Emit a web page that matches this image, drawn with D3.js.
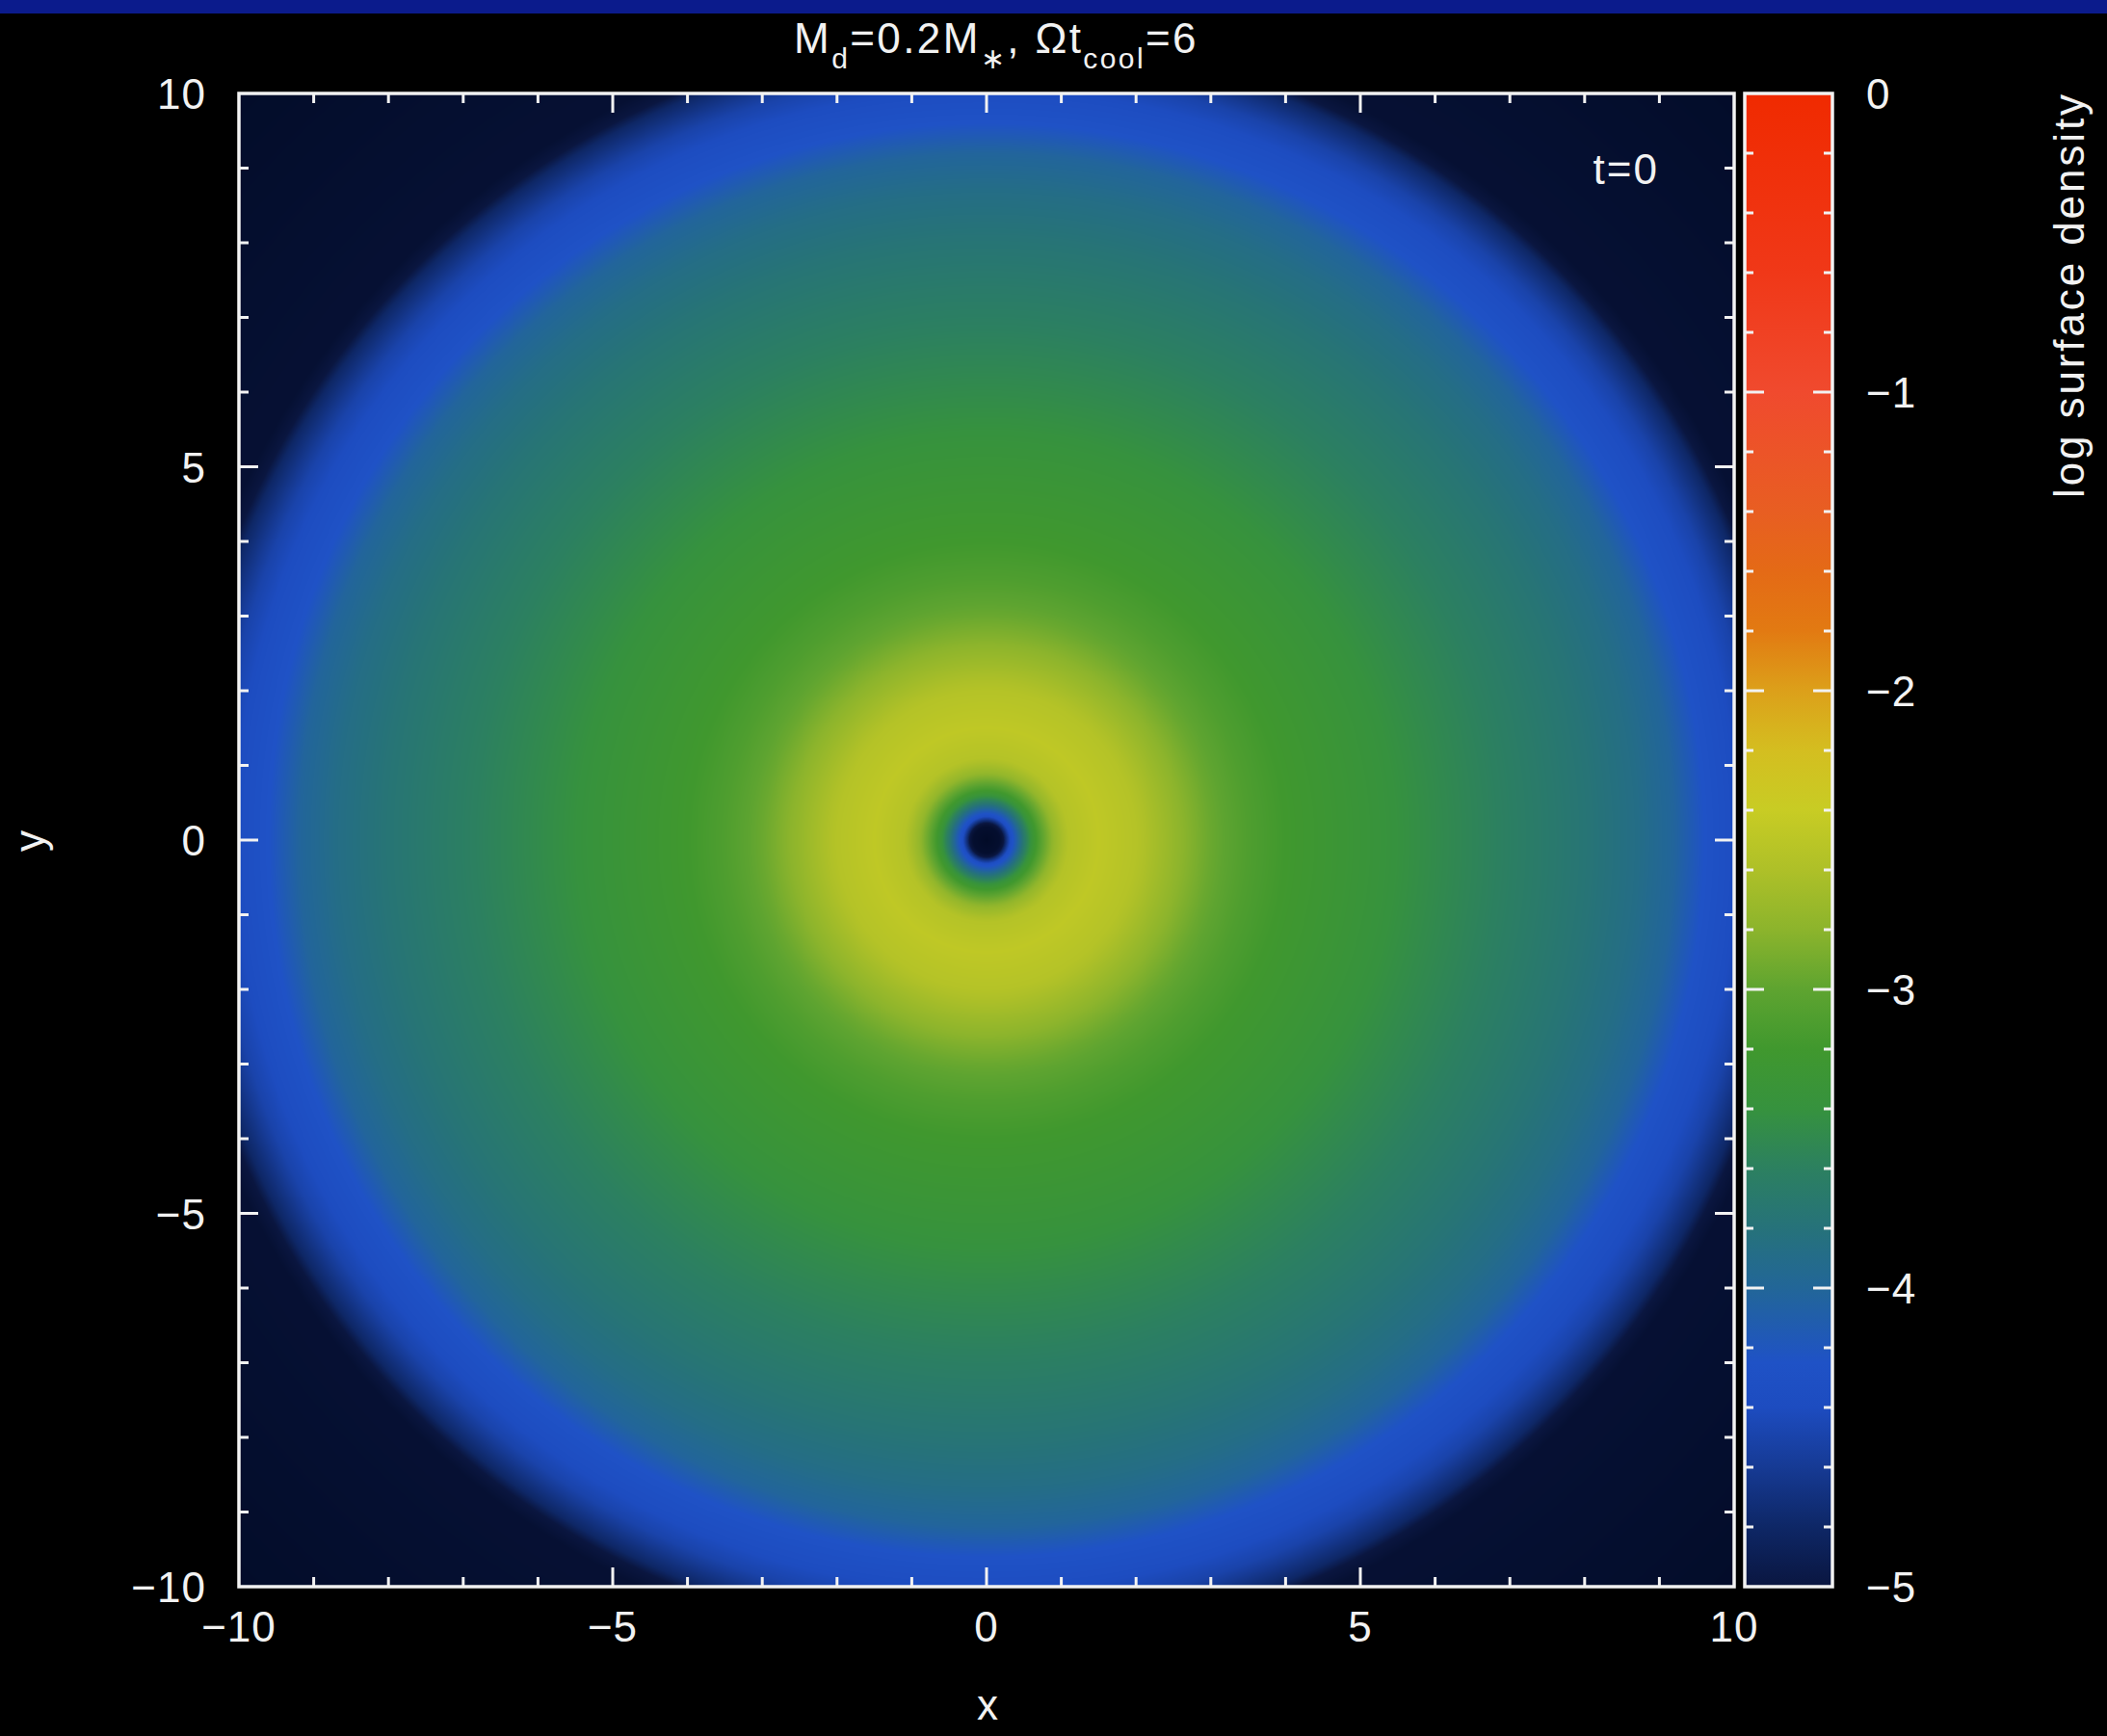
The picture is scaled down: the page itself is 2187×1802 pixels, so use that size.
<!DOCTYPE html>
<html>
<head>
<meta charset="utf-8">
<script src="https://cdn.jsdelivr.net/npm/d3@7"></script>
<style>
  html, body { margin: 0; padding: 0; background: #000; }
  svg { display: block; }
</style>
</head>
<body>
<script>
// Azimuthally averaged initial disk: log10 surface density against radius
const radius   = [0, 0.18, 0.25, 0.32, 0.40, 0.50, 0.62, 0.75, 0.90, 1.10, 1.50, 2.00, 2.50, 3.00, 3.50, 4.0, 5.0, 6.0, 7.0, 8.0, 8.7, 9.2, 9.6, 9.95, 10.3, 10.7, 11.0, 15];
const logSigma = [-5.6, -5.4, -4.8, -4.35, -4.1, -3.7, -3.3, -3.0, -2.75, -2.55, -2.47, -2.55, -2.75, -2.95, -3.1, -3.2, -3.33, -3.48, -3.62, -3.76, -3.88, -4.02, -4.25, -4.36, -4.5, -4.8, -5.3, -5.6];

// Colour table (log surface density -> colour); values under -5 fall to the background
const paletteValues = [-5.6, -5.0, -4.8, -4.6, -4.4, -4.25, -4.0, -3.8, -3.6, -3.4, -3.2, -3.0, -2.8, -2.6, -2.4, -2.2, -2.0, -1.8, -1.6, -1.4, -1.2, -1.0, -0.6, 0];
const paletteColors = ["#020b27", "#0a1640", "#0e2766", "#163a94", "#1d4cc0", "#1f52c6", "#226698", "#26727a", "#2c8060", "#36923e", "#40982e", "#5ea430", "#8cb42c", "#aec028", "#c8cc24", "#d4be20", "#dca01a", "#e27a12", "#e46a16", "#e85e22", "#ec5428", "#f04a2e", "#f03818", "#f02a00"];

// Axis ticks
const axisLabels     = [-10, -5, 0, 5, 10];
const axisMinor      = d3.range(-9, 10).filter(v => v % 5 !== 0);
const axisMajor      = [-5, 0, 5];
const colorbarLabels = [0, -1, -2, -3, -4, -5];
const colorbarMajor  = [-1, -2, -3, -4];
const colorbarMinor  = d3.range(-24, 0).filter(k => k % 5 !== 0).map(k => k / 5);

const W = 2187, H = 1802;
const plot = { left: 248, right: 1800, top: 97, bottom: 1647 };
const cbar = { left: 1811, right: 1902 };
const fg = "#f2f2f2";
const font = "'Liberation Sans', Arial, sans-serif";

const svg = d3.select("body").append("svg").attr("width", W).attr("height", H);
svg.append("rect").attr("width", W).attr("height", H).attr("fill", "#000");
svg.append("rect").attr("width", W).attr("height", 14).attr("fill", "#0b1b8c");

const xs = d3.scaleLinear().domain([-10, 10]).range([plot.left, plot.right]);
const ys = d3.scaleLinear().domain([-10, 10]).range([plot.bottom, plot.top]);
const cs = d3.scaleLinear().domain([-5, 0]).range([plot.bottom, plot.top]);

const profile = d3.scaleLinear().domain(radius).range(logSigma).clamp(true);
const color = d3.scaleLinear().domain(paletteValues).range(paletteColors)
  .interpolate(d3.interpolateRgb).clamp(true);

// Density map rendered pixel by pixel through a radius lookup table
const pw = Math.round(plot.right - plot.left), ph = Math.round(plot.bottom - plot.top);
const canvas = document.createElement("canvas");
canvas.width = pw; canvas.height = ph;
const ctx = canvas.getContext("2d");
const img = ctx.createImageData(pw, ph);
const dr = 0.002, nLut = Math.ceil(16 / dr);
const lut = new Uint8ClampedArray(nLut * 3);
for (let k = 0; k < nLut; k++) {
  const c = d3.rgb(color(profile(k * dr)));
  lut[k * 3] = c.r; lut[k * 3 + 1] = c.g; lut[k * 3 + 2] = c.b;
}
for (let j = 0; j < ph; j++) {
  const yv = ys.invert(plot.top + j + 0.5);
  for (let i = 0; i < pw; i++) {
    const xv = xs.invert(plot.left + i + 0.5);
    const k = Math.min(nLut - 1, Math.round(Math.hypot(xv, yv) / dr));
    const o = (j * pw + i) * 4;
    img.data[o] = lut[k * 3]; img.data[o + 1] = lut[k * 3 + 1]; img.data[o + 2] = lut[k * 3 + 2]; img.data[o + 3] = 255;
  }
}
ctx.putImageData(img, 0, 0);
svg.append("image").attr("x", plot.left).attr("y", plot.top)
  .attr("width", pw).attr("height", ph).attr("href", canvas.toDataURL());

// Colour bar: gradient runs top (0) to bottom (-5), stops in increasing offset
const grad = svg.append("defs").append("linearGradient").attr("id", "cbar-grad")
  .attr("x1", 0).attr("y1", 0).attr("x2", 0).attr("y2", 1);
paletteValues.filter(v => v >= -5).slice().reverse().forEach(v => {
  grad.append("stop").attr("offset", (0 - v) / 5).attr("stop-color", color(v));
});
svg.append("rect").attr("x", cbar.left).attr("y", plot.top)
  .attr("width", cbar.right - cbar.left).attr("height", plot.bottom - plot.top)
  .attr("fill", "url(#cbar-grad)");

// Frames and ticks
const frameW = 3.5, tickW = 3;
const ticks = svg.append("g").attr("stroke", fg).attr("stroke-width", tickW);
const addTick = (x1, y1, x2, y2) => ticks.append("line").attr("x1", x1).attr("y1", y1).attr("x2", x2).attr("y2", y2);
[[axisMinor, 10], [axisMajor, 20]].forEach(([vals, len]) => {
  vals.forEach(v => {
    addTick(xs(v), plot.bottom, xs(v), plot.bottom - len);
    addTick(xs(v), plot.top, xs(v), plot.top + len);
    addTick(plot.left, ys(v), plot.left + len, ys(v));
    addTick(plot.right, ys(v), plot.right - len, ys(v));
  });
});
[[colorbarMinor, 9], [colorbarMajor, 20]].forEach(([vals, len]) => {
  vals.forEach(v => {
    addTick(cbar.left, cs(v), cbar.left + len, cs(v));
    addTick(cbar.right, cs(v), cbar.right - len, cs(v));
  });
});
svg.append("rect").attr("x", plot.left).attr("y", plot.top)
  .attr("width", plot.right - plot.left).attr("height", plot.bottom - plot.top)
  .attr("fill", "none").attr("stroke", fg).attr("stroke-width", frameW);
svg.append("rect").attr("x", cbar.left).attr("y", plot.top)
  .attr("width", cbar.right - cbar.left).attr("height", plot.bottom - plot.top)
  .attr("fill", "none").attr("stroke", fg).attr("stroke-width", frameW);

// Labels
const fmt = v => (v < 0 ? "\u2212" : "") + Math.abs(v);
const text = svg.append("g").attr("fill", fg).attr("font-family", font).attr("font-size", 44);
axisLabels.forEach(v => {
  text.append("text").attr("x", xs(v)).attr("y", plot.bottom + 57)
    .attr("text-anchor", "middle").attr("letter-spacing", 1).text(fmt(v));
  text.append("text").attr("x", 214).attr("y", ys(v) + 16)
    .attr("text-anchor", "end").attr("letter-spacing", 1).text(fmt(v));
});
colorbarLabels.forEach(v => {
  text.append("text").attr("x", 1937).attr("y", cs(v) + 16)
    .attr("letter-spacing", 1).text(fmt(v));
});
text.append("text").attr("x", 1025).attr("y", 1785).attr("text-anchor", "middle").text("x");
text.append("text").attr("transform", "translate(46,873) rotate(-90)")
  .attr("text-anchor", "middle").text("y");
text.append("text").attr("transform", "translate(2163,98) rotate(-90)")
  .attr("text-anchor", "end").attr("textLength", 419).attr("lengthAdjust", "spacing")
  .text("log surface density");
text.append("text").attr("x", 1722).attr("y", 191).attr("text-anchor", "end")
  .attr("letter-spacing", 2).text("t=0");

// Title with subscripts
const title = text.append("text").attr("x", 1034).attr("y", 55)
  .attr("text-anchor", "middle").attr("letter-spacing", 2.4);
const parts = [
  ["M", 0], ["d", 1], ["=0.2M", 0], ["\u2217", 1], [",  \u03A9t", 0], ["cool", 1], ["=6", 0]
];
let level = 0;
parts.forEach(([s, sub]) => {
  const ts = title.append("tspan").text(s);
  if (sub !== level) ts.attr("dy", sub ? 16 : -16);
  if (sub) ts.attr("font-size", 30);
  level = sub;
});
</script>
</body>
</html>
